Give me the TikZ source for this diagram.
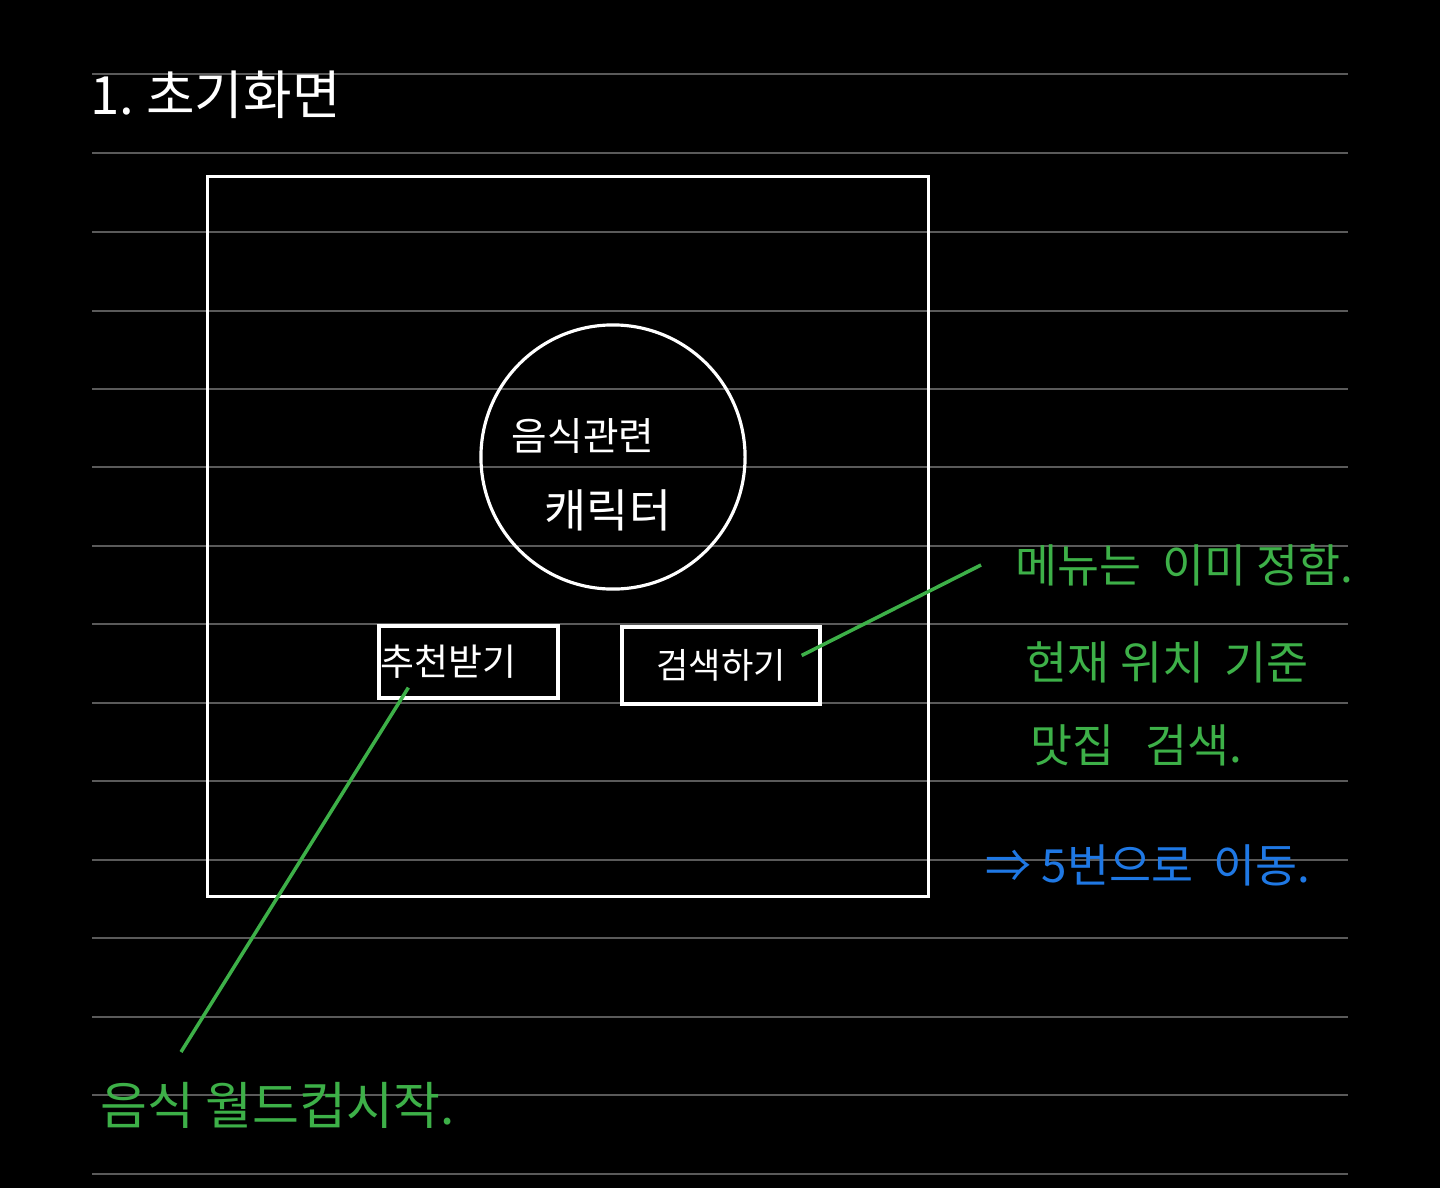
\documentclass[tikz,border=0pt]{standalone}
\usepackage{fontspec}
\newfontfamily\hangul{Noto Sans CJK KR}
\usetikzlibrary{calc}
\definecolor{pengreen}{HTML}{3DB048}
\definecolor{penblue}{HTML}{1F78E4}
\definecolor{ruleline}{HTML}{5A5A5A}
\tikzset{
  chalk/.style={draw=white,line width=0.9pt},
  button/.style={chalk,text=white,inner xsep=0.02cm,minimum height=0.72cm},
  memo/.style={text=pengreen,inner sep=0,anchor=west,font=\hangul\fontsize{13}{15}\selectfont},
  pointer/.style={draw=pengreen,line width=1pt}
}

\begin{document}
\begin{tikzpicture}[x=0.01cm,y=-0.01cm]
  \fill[black] (0,0) rectangle (1440,1188);
  \foreach \y in {74,153,232,311,389,467,546,624,703,781,860,938,1017,1095,1174}
    \draw[ruleline,line width=0.45pt] (92,\y) -- (1348,\y);

  \node[text=white,inner sep=0,anchor=west,font=\hangul\fontsize{15}{17}\selectfont] (title) at (90,95) {1.\ 초기화면};

  \node[chalk,minimum width=7.2cm,minimum height=7.19cm] (screen) at (568,536.5) {};
  \node[chalk,circle,minimum size=2.64cm] (mascot) at (613,457) {};
  \node[text=white,font=\hangul\fontsize{11}{13}\selectfont] (foodtxt) at (583,436) {음식관련};
  \node[text=white,font=\hangul\fontsize{13}{15}\selectfont] (chartxt) at (608,510) {캐릭터};

  \node[button,text width=1.75cm,align=left,font=\hangul\fontsize{10.5}{12}\selectfont] (recbtn) at (468.5,662) {추천받기};
  \node[button,minimum width=1.98cm,minimum height=0.77cm,font=\hangul\fontsize{10}{12}\selectfont] (srchbtn) at (721,665.5) {검색하기};

  \node[memo] (menutxt) at (1015,565) {메뉴는\ \ 이미 정함.};
  \node[memo] (loctxt) at (1025,662) {현재\ 위치\ \ 기준};
  \node[memo] (findtxt) at (1030,745) {맛집\ \ \ 검색.};
  \node[memo,text=penblue] (gotxt) at (985,865) {⇒ 5번으로\ \ 이동.};
  \node[memo,font=\hangul\fontsize{14.5}{16}\selectfont] (worldcup) at (100,1105) {음식\ 월드컵시작.};

  \draw[pointer] ($(recbtn.south west)+(31,-12)$) -- ($(worldcup.west)+(81,-53)$);
  \draw[pointer] ($(srchbtn.east)+(-20,-10)$) -- ($(menutxt.west)+(-34,0)$);
\end{tikzpicture}
\end{document}
